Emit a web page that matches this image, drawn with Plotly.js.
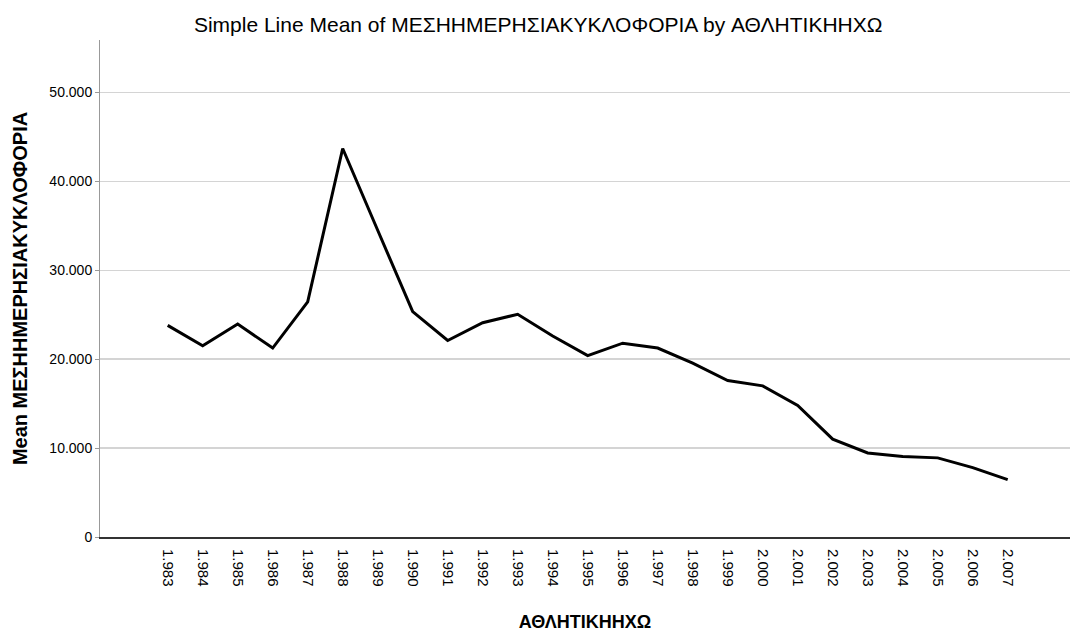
<!DOCTYPE html>
<html>
<head>
<meta charset="utf-8">
<script src="https://cdn.plot.ly/plotly-3.0.1.min.js"></script>
<style>html,body{margin:0;padding:0;background:#fff;}#chart{width:1070px;height:635px;}</style>
</head>
<body>
<div id="chart"></div>
<script>
const years = ["1.983","1.984","1.985","1.986","1.987","1.988","1.989","1.990","1.991","1.992","1.993","1.994","1.995","1.996","1.997","1.998","1.999","2.000","2.001","2.002","2.003","2.004","2.005","2.006","2.007"];
const meanCirculation = [23800,21500,23950,21250,26450,43700,34500,25350,22100,24100,25050,22600,20400,21800,21250,19550,17600,17000,14800,11000,9450,9050,8900,7800,6450];
const yTickVals = [0,10000,20000,30000,40000,50000];
const yTickText = ["0","10.000","20.000","30.000","40.000","50.000"];

const font = "Liberation Sans, Arial, sans-serif";

const trace = {
  type: "scatter",
  mode: "lines",
  x: years,
  y: meanCirculation,
  line: {color: "#000000", width: 3},
  hoverinfo: "x+y"
};

const layout = {
  width: 1070,
  height: 635,
  paper_bgcolor: "#ffffff",
  plot_bgcolor: "#ffffff",
  margin: {l: 100, r: 0, t: 40, b: 98},
  showlegend: false,
  font: {family: font, color: "#000000"},
  title: {
    text: "Simple Line Mean of ΜΕΣΗΗΜΕΡΗΣΙΑΚΥΚΛΟΦΟΡΙΑ by ΑΘΛΗΤΙΚΗΗΧΩ",
    font: {family: font, size: 21, color: "#000000"},
    xref: "container", x: 0.503, xanchor: "center",
    yref: "container", y: 0.961, yanchor: "middle"
  },
  xaxis: {
    type: "category",
    range: [-1.934, 25.78],
    tickangle: 90,
    tickfont: {family: font, size: 15, color: "#000000"},
    showgrid: false,
    zeroline: false,
    showline: true,
    linecolor: "#333333",
    linewidth: 2,
    ticks: "outside",
    ticklen: 7,
    tickcolor: "rgba(0,0,0,0)",
    title: {text: "<b>ΑΘΛΗΤΙΚΗΗΧΩ</b>", font: {family: font, size: 18, color: "#000000"}, standoff: 30}
  },
  yaxis: {
    range: [0, 55900],
    tickvals: yTickVals,
    ticktext: yTickText,
    tickfont: {family: font, size: 14, color: "#000000"},
    showgrid: true,
    gridcolor: "#d4d4d4",
    gridwidth: 1.5,
    zeroline: false,
    showline: true,
    linecolor: "#999999",
    linewidth: 1,
    ticks: "outside",
    ticklen: 4,
    tickcolor: "#999999",
    title: {text: "<b>Mean ΜΕΣΗΗΜΕΡΗΣΙΑΚΥΚΛΟΦΟΡΙΑ</b>", font: {family: font, size: 20, color: "#000000"}, standoff: 16}
  }
};

Plotly.newPlot("chart", [trace], layout, {staticPlot: true, displayModeBar: false});
</script>
</body>
</html>
